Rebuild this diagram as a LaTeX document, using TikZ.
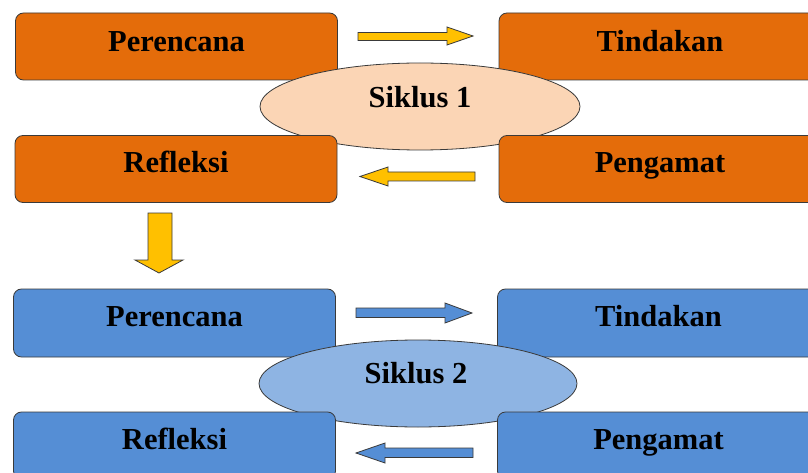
\documentclass[tikz,border=0pt]{standalone}
\usepackage{fontspec}
\setmainfont{Liberation Serif}
\usetikzlibrary{shapes.geometric,calc}
\definecolor{orng}{HTML}{E46C0A}
\definecolor{peach}{HTML}{FBD5B5}
\definecolor{bluebox}{HTML}{558ED5}
\definecolor{lblue}{HTML}{8EB4E3}
\definecolor{ylw}{HTML}{FFC000}
\definecolor{edge}{HTML}{3A3A3A}
\begin{document}
\begin{tikzpicture}[x=1pt,y=-1pt,
  basebox/.style={draw=edge,line width=0.8pt,rounded corners=8pt,inner sep=0pt,minimum width=322pt,minimum height=67pt},
  obox/.style={basebox,fill=orng},
  bbox/.style={basebox,fill=bluebox},
  txt/.style={font=\fontsize{30.5}{36}\selectfont\bfseries,anchor=base,inner sep=0pt},
  ell/.style={ellipse,draw=edge,line width=0.8pt,minimum width=320pt,minimum height=87pt,inner sep=0pt},
  yarr/.style={draw=edge,line width=0.8pt,fill=ylw,line join=miter},
  barr/.style={draw=edge,line width=0.8pt,fill=bluebox,line join=miter}]
\useasboundingbox (0,0) rectangle (808,473);
\clip (0,0) rectangle (808,473);
% ---- cycle 1 ----
\node[obox] (per1) at (176.5,46.5) {};
\node[obox] (tin1) at (660,46.5) {};
\node[ell,fill=peach] (e1) at (420,106.5) {};
\node[obox] (ref1) at (176,169) {};
\node[obox] (pen1) at (660,169) {};
\node[txt] (tper1) at ($(per1.north)+(0,39)$) {Perencana};
\node[txt] (ttin1) at ($(tin1.north)+(0,39)$) {Tindakan};
\node[txt] (tref1) at ($(ref1.north)+(0,37)$) {Refleksi};
\node[txt] (tpen1) at ($(pen1.north)+(0,37)$) {Pengamat};
\node[txt] (te1) at ($(e1.center)+(0,1)$) {Siklus 1};
% arrows cycle 1
\draw[yarr] (358,32.5) -- (447,32.5) -- (447,27) -- (473,36) -- (447,45) -- (447,40.5) -- (358,40.5) -- cycle;
\draw[yarr] (475,172) -- (388,172) -- (388,167) -- (360,176.5) -- (388,186) -- (388,181) -- (475,181) -- cycle;
% down arrow
\draw[yarr] (148,213) -- (172,213) -- (172,260) -- (183,260) -- (159,273) -- (135,260) -- (148,260) -- cycle;
% ---- cycle 2 ----
\node[bbox,minimum height=68pt] (per2) at (174.5,323) {};
\node[bbox,minimum height=68pt] (tin2) at (658.5,323) {};
\node[ell,fill=lblue,minimum width=318pt] (e2) at (418,383.5) {};
\node[bbox] (ref2) at (174.5,445.5) {};
\node[bbox] (pen2) at (658.5,445.5) {};
\node[txt] (tper2) at ($(per2.north)+(0,38)$) {Perencana};
\node[txt] (ttin2) at ($(tin2.north)+(0,38)$) {Tindakan};
\node[txt] (tref2) at ($(ref2.north)+(0,38)$) {Refleksi};
\node[txt] (tpen2) at ($(pen2.north)+(0,38)$) {Pengamat};
\node[txt] (te2) at ($(e2.center)+(-2,0)$) {Siklus 2};
% arrows cycle 2
\draw[barr] (356,308) -- (445,308) -- (445,303) -- (472,313) -- (445,323) -- (445,317.5) -- (356,317.5) -- cycle;
\draw[barr] (473,448) -- (385,448) -- (385,443) -- (356,453) -- (385,463) -- (385,457.5) -- (473,457.5) -- cycle;
\end{tikzpicture}
\end{document}
